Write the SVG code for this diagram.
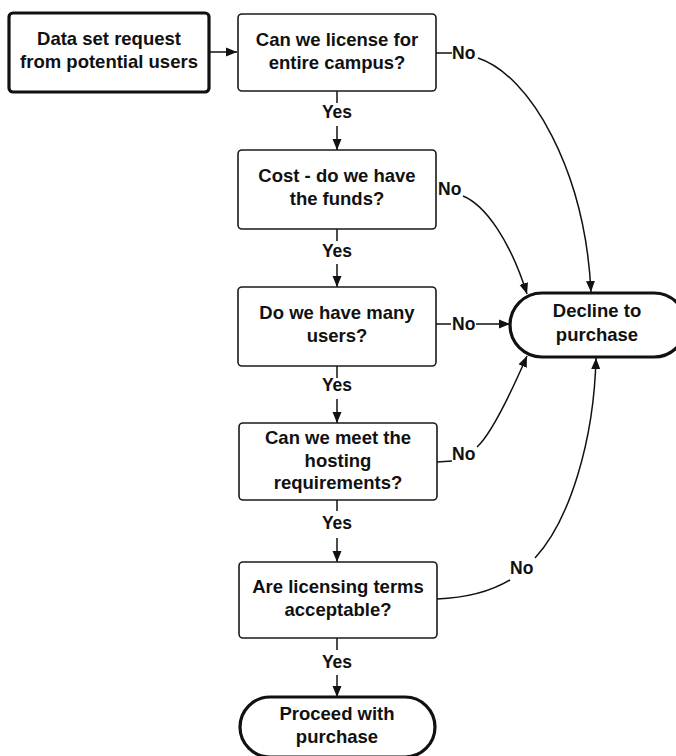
<svg xmlns="http://www.w3.org/2000/svg" width="676" height="756" viewBox="0 0 676 756">
<style>
.box{fill:#fff;stroke:#1a1a1a;stroke-width:1.6}
.thick{fill:#fff;stroke:#111;stroke-width:3.2}
.t{font-family:"Liberation Sans",Arial,sans-serif;font-weight:bold;font-size:18.5px;fill:#111;text-anchor:middle}
.lbl{font-family:"Liberation Sans",Arial,sans-serif;font-weight:bold;font-size:17.5px;fill:#111}
.c{fill:none;stroke:#111;stroke-width:1.5}
.a{marker-end:url(#arr)}
</style>
<defs>
<marker id="arr" markerUnits="userSpaceOnUse" markerWidth="12" markerHeight="10" refX="11" refY="5" orient="auto">
<path d="M0,0.5 L11,5 L0,9.5 Z" fill="#111"/>
</marker>
</defs>
<rect width="676" height="756" fill="#fff"/>
<g id="connectors">
<line class="c a" x1="209" y1="52" x2="237" y2="52"/>
<line class="c" x1="337" y1="91" x2="337" y2="103"/>
<line class="c a" x1="337" y1="126" x2="337" y2="150"/>
<line class="c" x1="337" y1="229" x2="337" y2="241"/>
<line class="c a" x1="337" y1="264" x2="337" y2="287"/>
<line class="c" x1="337" y1="366" x2="337" y2="378"/>
<line class="c a" x1="337" y1="399" x2="337" y2="423"/>
<line class="c" x1="337" y1="500" x2="337" y2="511"/>
<line class="c a" x1="337" y1="538" x2="337" y2="562"/>
<line class="c" x1="337" y1="638" x2="337" y2="650"/>
<line class="c a" x1="337" y1="675" x2="337" y2="697"/>
<line class="c" x1="436" y1="53" x2="452" y2="53"/>
<path class="c a" d="M478,58 C530,75 585,170 591,292"/>
<path class="c a" d="M463,196 C485,205 510,240 527,294"/>
<line class="c" x1="436" y1="324" x2="451" y2="324"/>
<line class="c a" x1="476" y1="324" x2="510" y2="324"/>
<line class="c" x1="437" y1="462" x2="452" y2="461"/>
<path class="c a" d="M477,447 C490,435 510,395 527,356"/>
<path class="c" d="M437,599 C465,598 490,592 510,580"/>
<path class="c a" d="M535,558 C570,520 594,440 596,358"/>
<text class="lbl" x="337" y="118" text-anchor="middle">Yes</text>
<text class="lbl" x="337" y="257" text-anchor="middle">Yes</text>
<text class="lbl" x="337" y="391" text-anchor="middle">Yes</text>
<text class="lbl" x="337" y="529" text-anchor="middle">Yes</text>
<text class="lbl" x="337" y="668" text-anchor="middle">Yes</text>
<text class="lbl" x="452" y="59">No</text>
<text class="lbl" x="438" y="195">No</text>
<text class="lbl" x="452" y="330">No</text>
<text class="lbl" x="452" y="460">No</text>
<text class="lbl" x="510" y="574">No</text>
</g>
<g id="request">
<rect class="thick" x="9" y="13" width="200" height="79" rx="4"/>
<text class="t" x="109" y="45">Data set request</text>
<text class="t" x="109" y="68">from potential users</text>
</g>
<g id="campus">
<rect class="box" x="238" y="14" width="198" height="77" rx="4"/>
<text class="t" x="337" y="46">Can we license for</text>
<text class="t" x="337" y="69">entire campus?</text>
</g>
<g id="cost">
<rect class="box" x="238" y="150" width="198" height="79" rx="4"/>
<text class="t" x="337" y="182">Cost - do we have</text>
<text class="t" x="337" y="205">the funds?</text>
</g>
<g id="users">
<rect class="box" x="238" y="287" width="198" height="79" rx="4"/>
<text class="t" x="337" y="319">Do we have many</text>
<text class="t" x="337" y="342">users?</text>
</g>
<g id="hosting">
<rect class="box" x="239" y="423" width="198" height="77" rx="4"/>
<text class="t" x="338" y="444">Can we meet the</text>
<text class="t" x="338" y="467">hosting</text>
<text class="t" x="338" y="489">requirements?</text>
</g>
<g id="terms">
<rect class="box" x="239" y="562" width="198" height="76" rx="4"/>
<text class="t" x="338" y="593">Are licensing terms</text>
<text class="t" x="338" y="616">acceptable?</text>
</g>
<g id="decline">
<rect class="thick" x="510" y="293" width="176" height="64" rx="32"/>
<text class="t" x="597" y="317">Decline to</text>
<text class="t" x="597" y="341">purchase</text>
</g>
<g id="proceed">
<rect class="thick" x="240" y="697" width="195" height="60" rx="30"/>
<text class="t" x="337" y="720">Proceed with</text>
<text class="t" x="337" y="743">purchase</text>
</g>
</svg>
